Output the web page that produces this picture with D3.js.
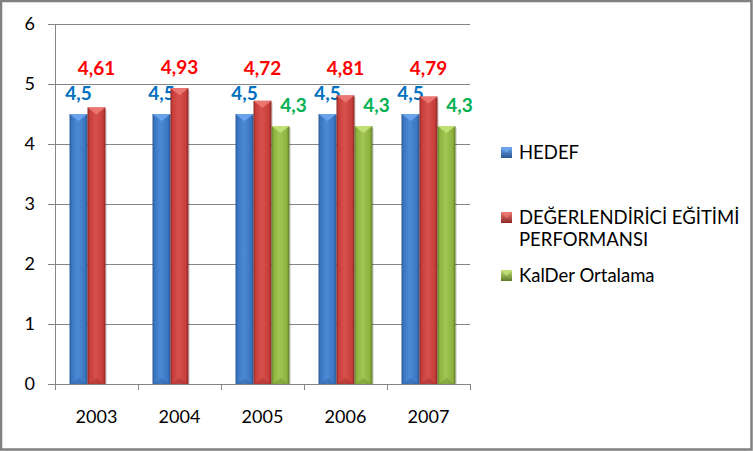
<!DOCTYPE html>
<html>
<head>
<meta charset="utf-8">
<script src="https://cdn.jsdelivr.net/npm/d3@7"></script>
<style>
  html, body { margin: 0; padding: 0; background: #fff; }
  svg { display: block; }
</style>
</head>
<body>
<div id="chart"></div>
<script>
const years = ["2003", "2004", "2005", "2006", "2007"];
const seriesNames = ["HEDEF", "DEĞERLENDİRİCİ EĞİTİMİ PERFORMANSI", "KalDer Ortalama"];
const hedef = [4.5, 4.5, 4.5, 4.5, 4.5];
const performans = [4.61, 4.93, 4.72, 4.81, 4.79];
const kalder = [null, null, 4.3, 4.3, 4.3];
const hedefLabels = ["4,5", "4,5", "4,5", "4,5", "4,5"];
const performansLabels = ["4,61", "4,93", "4,72", "4,81", "4,79"];
const kalderLabels = [null, null, "4,3", "4,3", "4,3"];
const yTicks = [0, 1, 2, 3, 4, 5, 6];

const W = 753, H = 451;
const svg = d3.select("#chart").append("svg").attr("width", W).attr("height", H);

const defs = svg.append("defs");
const palette = [
  { key: "b", edge: "#2a5592", main: "#3a76c2", light: "#4d8ad6", top: "#6ea6ee", label: "#0070C0" },
  { key: "r", edge: "#8c2624", main: "#c73e3b", light: "#d8504c", top: "#ec7a75", label: "#FF0000" },
  { key: "g", edge: "#5f7a28", main: "#8db23f", light: "#a2c553", top: "#c4e27a", label: "#00B050" }
];
palette.forEach(p => {
  const g = defs.append("linearGradient").attr("id", "grad-" + p.key)
    .attr("x1", "0%").attr("x2", "100%").attr("y1", "0%").attr("y2", "0%");
  g.append("stop").attr("offset", "0%").attr("stop-color", p.edge);
  g.append("stop").attr("offset", "12%").attr("stop-color", p.main);
  g.append("stop").attr("offset", "45%").attr("stop-color", p.light);
  g.append("stop").attr("offset", "85%").attr("stop-color", p.main);
  g.append("stop").attr("offset", "100%").attr("stop-color", p.edge);
  const s = defs.append("linearGradient").attr("id", "sq-" + p.key)
    .attr("x1", "0%").attr("x2", "0%").attr("y1", "0%").attr("y2", "100%");
  s.append("stop").attr("offset", "0%").attr("stop-color", p.top);
  s.append("stop").attr("offset", "100%").attr("stop-color", p.edge);
});

// frame
svg.append("rect").attr("x", 1).attr("y", 1).attr("width", W - 2.5).attr("height", H - 2.5)
  .attr("fill", "#fff").attr("stroke", "#808080").attr("stroke-width", 2.5);

const plot = { left: 55, right: 470, top: 24, bottom: 384 };
const x0 = d3.scaleBand().domain(years).range([plot.left, plot.right]).padding(0);
const bw = x0.bandwidth();
const x1 = d3.scaleBand().domain([0, 1, 2]).range([bw * 0.175, bw * 0.825]).padding(0);
const y = d3.scaleLinear().domain([0, 6]).range([plot.bottom, plot.top]);

const font = "Lato, 'Open Sans', sans-serif";

// gridlines
svg.append("g").selectAll("line").data(yTicks).join("line")
  .attr("x1", plot.left - 7).attr("x2", plot.right)
  .attr("y1", d => Math.round(y(d)) + 0.5).attr("y2", d => Math.round(y(d)) + 0.5)
  .attr("stroke", "#868686").attr("stroke-width", 1);

// y axis line
svg.append("line").attr("x1", plot.left + 0.5).attr("x2", plot.left + 0.5)
  .attr("y1", plot.top).attr("y2", plot.bottom + 0.5).attr("stroke", "#868686");

// x ticks
const bounds = years.map(d => x0(d)).concat([plot.right]);
svg.append("g").selectAll("line").data(bounds).join("line")
  .attr("x1", d => Math.round(d) + 0.5).attr("x2", d => Math.round(d) + 0.5)
  .attr("y1", plot.bottom).attr("y2", plot.bottom + 6)
  .attr("stroke", "#868686");

// y labels
svg.append("g").selectAll("text").data(yTicks).join("text")
  .attr("x", 35).attr("y", d => y(d)).attr("dy", "0.36em")
  .attr("text-anchor", "end").attr("font-family", font).attr("font-size", 18)
  .attr("fill", "#000").text(d => d);

// x labels
svg.append("g").selectAll("text").data(years).join("text")
  .attr("x", d => x0(d) + bw / 2).attr("y", 423)
  .attr("text-anchor", "middle").attr("font-family", font).attr("font-size", 18)
  .attr("fill", "#000").text(d => d);

const series = [hedef, performans, kalder];
const labels = [hedefLabels, performansLabels, kalderLabels];
const barW = x1.bandwidth();

series.forEach((vals, si) => {
  const p = palette[si];
  const data = years.map((yr, i) => ({ yr, v: vals[i], lab: labels[si][i] })).filter(d => d.v != null);
  const g = svg.append("g");
  // shadow
  g.selectAll("rect.sh").data(data).join("rect").attr("class", "sh")
    .attr("x", d => x0(d.yr) + x1(si) + 1.5).attr("y", d => y(d.v) + 2)
    .attr("width", barW).attr("height", d => y(0) - y(d.v) - 2)
    .attr("fill", "#000").attr("opacity", 0.12);
  g.selectAll("rect.bar").data(data).join("rect").attr("class", "bar")
    .attr("x", d => x0(d.yr) + x1(si)).attr("y", d => y(d.v))
    .attr("width", barW).attr("height", d => y(0) - y(d.v))
    .attr("fill", `url(#grad-${p.key})`);
  // top bevel
  g.selectAll("path.top").data(data).join("path").attr("class", "top")
    .attr("d", d => {
      const bx = x0(d.yr) + x1(si), by = y(d.v);
      return `M${bx},${by}L${bx + barW},${by}L${bx + barW / 2},${by + 7}Z`;
    })
    .attr("fill", p.top).attr("opacity", 0.9);
  // bottom bevel
  g.selectAll("path.bot").data(data).join("path").attr("class", "bot")
    .attr("d", d => {
      const bx = x0(d.yr) + x1(si), by = y(0);
      return `M${bx + 2},${by}L${bx + barW - 2},${by}L${bx + barW / 2},${by - 6}Z`;
    })
    .attr("fill", p.edge).attr("opacity", 0.35);
  // labels
  g.selectAll("text").data(data).join("text")
    .attr("x", d => x0(d.yr) + x1(si) + barW / 2 + (si === 2 ? 13 : 0))
    .attr("y", d => si === 1 ? Math.min(y(d.v) - 21, 68) : y(d.v) - 21)
    .attr("dy", "0.36em")
    .attr("text-anchor", "middle").attr("font-family", font).attr("font-size", 19)
    .attr("font-weight", "bold").attr("fill", p.label).text(d => d.lab);
});

// bottom axis line
svg.append("line").attr("x1", plot.left - 7).attr("x2", plot.right)
  .attr("y1", plot.bottom + 0.5).attr("y2", plot.bottom + 0.5).attr("stroke", "#868686");

// legend
const legendLines = [["HEDEF"], ["DEĞERLENDİRİCİ EĞİTİMİ", "PERFORMANSI"], ["KalDer Ortalama"]];
const legendY = [152, 217, 275];
const lg = svg.append("g");
legendLines.forEach((lines, i) => {
  const p = palette[i];
  lg.append("rect").attr("x", 501).attr("y", legendY[i] - 5).attr("width", 11).attr("height", 11)
    .attr("fill", `url(#sq-${p.key})`);
  lg.append("path")
    .attr("d", `M502,${legendY[i] - 4}L511,${legendY[i] - 4}L506.5,${legendY[i] + 1}Z`)
    .attr("fill", p.top).attr("opacity", 0.8);
  lines.forEach((t, j) => {
    lg.append("text").attr("x", 519).attr("y", legendY[i] + j * 22).attr("dy", "0.36em")
      .attr("font-family", font).attr("font-size", 18.5).attr("fill", "#000").text(t);
  });
});
</script>
</body>
</html>
